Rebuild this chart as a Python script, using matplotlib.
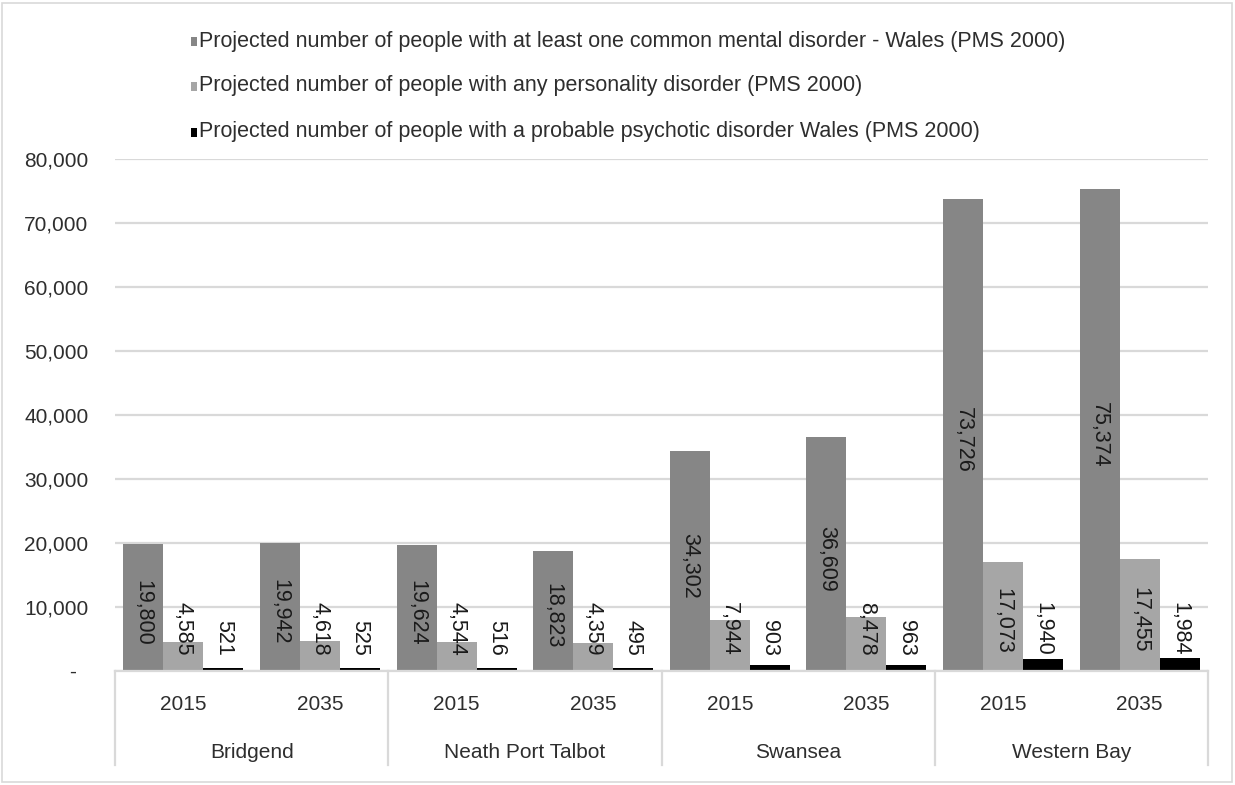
import matplotlib
matplotlib.use("Agg")
import matplotlib.pyplot as plt
from matplotlib.patches import Rectangle
from matplotlib.lines import Line2D
from matplotlib.ticker import FuncFormatter, MultipleLocator
import matplotlib.transforms as mtransforms

# ---- data ----
areas = ["Bridgend", "Neath Port Talbot", "Swansea", "Western Bay"]
years = ["2015", "2035"]
series_names = [
    "Projected number of people with at least one common mental disorder - Wales (PMS 2000)",
    "Projected number of people with any personality disorder (PMS 2000)",
    "Projected number of people with a probable psychotic disorder Wales (PMS 2000)",
]
common_mental = [19800, 19942, 19624, 18823, 34302, 36609, 73726, 75374]
personality = [4585, 4618, 4544, 4359, 7944, 8478, 17073, 17455]
psychotic = [521, 525, 516, 495, 903, 963, 1940, 1984]
series_values = [common_mental, personality, psychotic]
series_colors = ["#868686", "#A6A6A6", "#000000"]

TEXT = "#2e2e2e"
GRID = "#D9D9D9"
FONT = "Liberation Sans"
FS = 15
FS_LEG = 15.5
FS_LAB = 15.5

plt.rcParams["font.family"] = [FONT, "DejaVu Sans"]

W, H = 1235, 785
fig = plt.figure(figsize=(W / 100, H / 100), dpi=100)

# plot area in pixel coordinates
px_left, px_right, px_top, px_bottom = 115, 1208, 159, 671
ax = fig.add_axes([px_left / W, 1 - px_bottom / H,
                   (px_right - px_left) / W, (px_bottom - px_top) / H])

n_cat = len(common_mental)
bar_w = 0.293
offsets = [-bar_w, 0.0, bar_w]
centers = [i + 0.5 for i in range(n_cat)]

bar_groups = []
for vals, col, off in zip(series_values, series_colors, offsets):
    bars = ax.bar([c + off for c in centers], vals, width=bar_w, color=col,
                  edgecolor="none", zorder=2)
    bar_groups.append((bars, vals))

ax.set_xlim(0, n_cat)
ax.set_ylim(0, 80000)
ax.yaxis.set_major_locator(MultipleLocator(10000))
ax.yaxis.set_major_formatter(FuncFormatter(
    lambda v, p: "-  " if v == 0 else f"{int(v):,}"))
ax.tick_params(axis="y", length=0, pad=19, labelsize=FS, labelcolor=TEXT)
for lab in ax.get_yticklabels():
    lab.set_fontfamily(FONT)
ax.set_xticks([])
ax.grid(axis="y", color=GRID, linewidth=1.6, zorder=0)
ax.set_axisbelow(True)
for s in ["top", "right", "left"]:
    ax.spines[s].set_visible(False)
ax.spines["bottom"].set_color(GRID)
ax.spines["bottom"].set_linewidth(1.6)
ax.spines["bottom"].set_zorder(3)

# ---- multi-level category axis ----
blend = mtransforms.blended_transform_factory(ax.transData, ax.transAxes)
ax_h_px = px_bottom - px_top
sep_bottom = -(765 - px_bottom) / ax_h_px
for k in range(0, n_cat + 1, 2):
    ax.add_line(Line2D([k, k], [0, sep_bottom], transform=blend, color=GRID,
                       linewidth=1.6, clip_on=False))
year_y = -(704 - px_bottom) / ax_h_px
area_y = -(752 - px_bottom) / ax_h_px
for i, c in enumerate(centers):
    ax.text(c, year_y, years[i % 2], transform=blend, ha="center", va="center",
            fontsize=FS, color=TEXT)
for g, name in enumerate(areas):
    ax.text(2 * g + 1, area_y, name, transform=blend, ha="center", va="center",
            fontsize=FS, color=TEXT)

# ---- data labels (rotated, centred, kept clear of the axis) ----
fig.canvas.draw()
renderer = fig.canvas.get_renderer()
axis_disp_y = ax.transData.transform((0, 0))[1]
for bars, vals in bar_groups:
    for b, v in zip(bars, vals):
        x = b.get_x() + b.get_width() / 2
        t = ax.text(x, v / 2, f"{v:,}", rotation=-90, rotation_mode="anchor",
                    ha="center", va="center", fontsize=FS_LAB, color="#1a1a1a",
                    zorder=4)
        ext = t.get_window_extent(renderer)
        half = ext.height / 2
        cy = ax.transData.transform((x, v / 2))[1] - 5
        cy = max(cy, axis_disp_y + 15 + half)
        t.set_position(ax.transData.inverted().transform((0, cy)) * [0, 1]
                       + [x, 0])

# ---- legend ----
legend_rows = [41, 86, 132]
for name, col, yy in zip(series_names, series_colors, legend_rows):
    fig.patches.append(Rectangle((191 / W, 1 - (yy + 5) / H), 6 / W, 9 / H,
                                 transform=fig.transFigure, facecolor=col,
                                 edgecolor="none"))
    fig.text(199 / W, 1 - yy / H, name, ha="left", va="center",
             fontsize=FS_LEG, color=TEXT)

# ---- chart border ----
fig.patches.append(Rectangle((2 / W, 3 / H), (W - 5) / W, (H - 6) / H,
                             transform=fig.transFigure, facecolor="none",
                             edgecolor=GRID, linewidth=1.2))

fig.savefig("out.png", dpi=100, facecolor="white")
